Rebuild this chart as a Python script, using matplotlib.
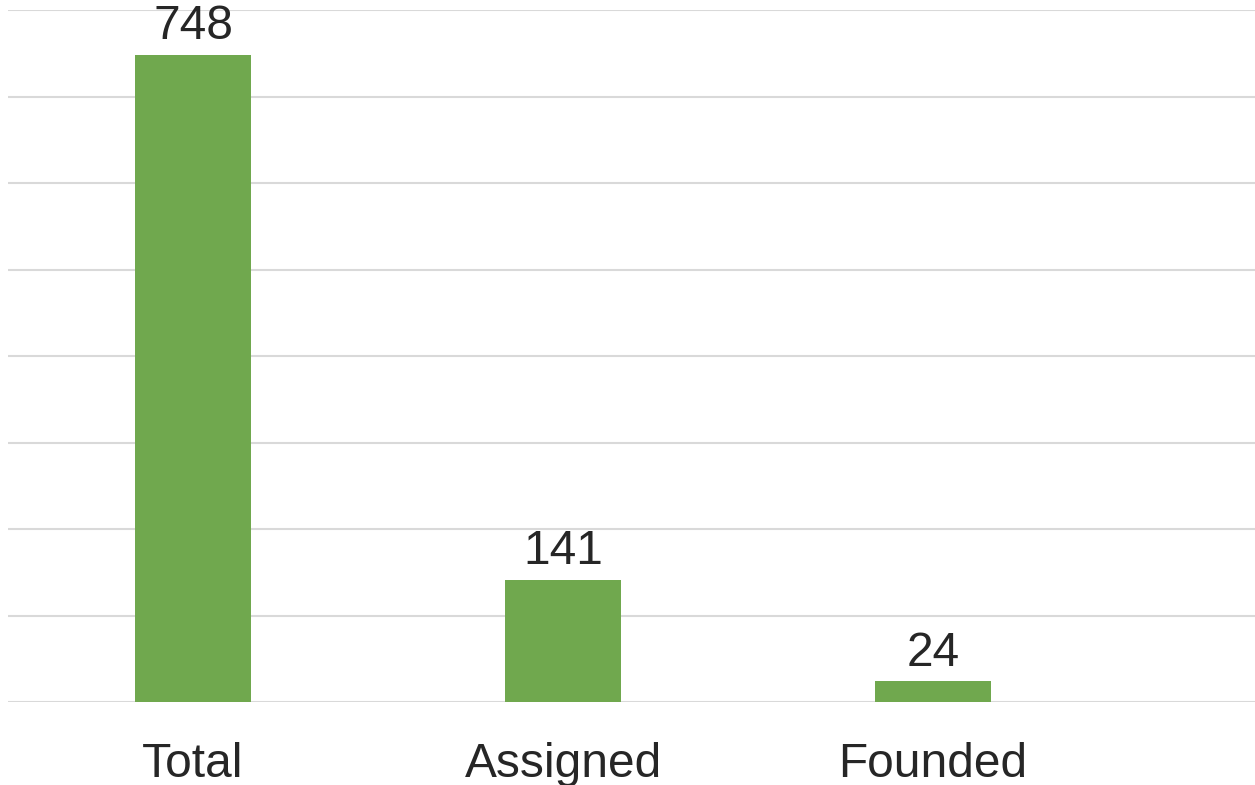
import matplotlib.pyplot as plt
import numpy as np

# Chart data
categories = ['Total', 'Assigned', 'Founded']
counts = [748, 141, 24]

plt.rcParams['font.family'] = ['Liberation Sans', 'DejaVu Sans']

fig = plt.figure(figsize=(12.55, 7.85), dpi=100)
ax = fig.add_axes([8 / 1255, 83 / 785, 1247 / 1255, 692 / 785])

x = np.arange(len(categories))
bars = ax.bar(x, counts, width=0.313, color='#70A84E', zorder=3)

# value labels above bars
for xi, v in zip(x, counts):
    ax.annotate(str(v), (xi, v), xytext=(0, 4), textcoords='offset points',
                ha='center', va='bottom', fontsize=34.5, color='#262626')

ax.set_ylim(0, 800)
ax.set_xlim(-0.5, 2.87)
ax.set_yticks(np.arange(0, 801, 100))
ax.set_yticklabels([])
ax.yaxis.grid(True, color='#D9D9D9', linewidth=1.5, zorder=0)
ax.set_xticks(x)
ax.set_xticklabels(categories, fontsize=34.5, color='#262626')
ax.tick_params(axis='x', length=0, pad=29)
ax.tick_params(axis='y', length=0)
for s in ax.spines.values():
    s.set_visible(False)

fig.savefig('out.png', dpi=100)
